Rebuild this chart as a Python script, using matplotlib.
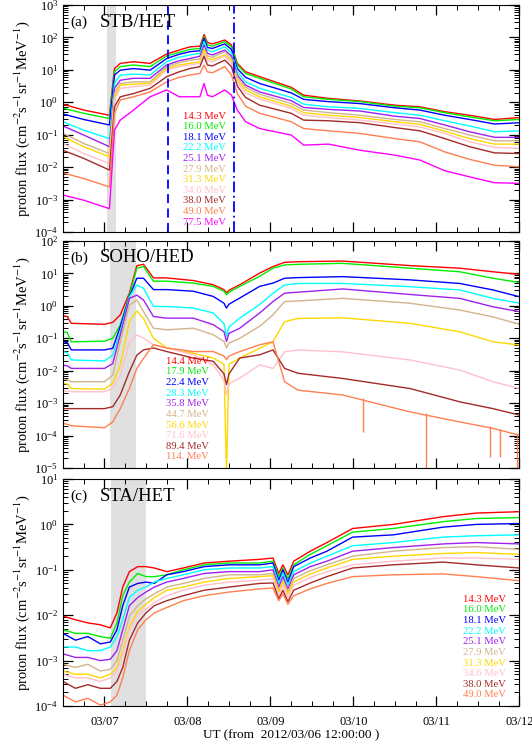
#!/usr/bin/python3

import numpy as np
import matplotlib
matplotlib.use('Agg')
import matplotlib.pyplot as plt
from matplotlib.ticker import MultipleLocator, FixedLocator, LogLocator, NullFormatter

plt.rcParams['font.family'] = ['Liberation Serif', 'DejaVu Serif']
plt.rcParams['mathtext.fontset'] = 'stix'

# time in days from 2012/03/06 12:00 UT, flux given as log10 (cm-2 s-1 sr-1 MeV-1)

# ---- (a) STB/HET
t_a = [0.00, 0.25, 0.56, 0.62, 0.69, 0.85, 1.05, 1.25, 1.40, 1.53, 1.65, 1.70, 1.74, 1.80, 1.95,
       2.03, 2.10, 2.20, 2.37, 2.75, 2.90, 3.20, 3.58, 4.00, 4.30, 4.60, 4.90, 5.20, 5.50]
a_143 = [-0.06, -0.24, -0.40, 1.04, 1.20, 1.25, 1.20, 1.49, 1.61, 1.71, 1.73, 2.09, 1.84, 1.80, 1.92,
         1.77, 1.20, 0.94, 0.79, 0.46, 0.22, 0.12, 0.04, -0.09, -0.14, -0.29, -0.40, -0.53, -0.47]
a_160 = [-0.18, -0.34, -0.50, 0.94, 1.10, 1.15, 1.10, 1.43, 1.54, 1.63, 1.66, 2.02, 1.77, 1.73, 1.87,
         1.71, 1.15, 0.89, 0.74, 0.41, 0.17, 0.09, 0.02, -0.12, -0.17, -0.32, -0.45, -0.57, -0.53]
a_181 = [-0.36, -0.53, -0.70, 0.84, 0.99, 1.04, 0.99, 1.35, 1.48, 1.56, 1.59, 1.97, 1.69, 1.66, 1.80,
         1.63, 1.04, 0.77, 0.58, 0.29, 0.09, 0.02, -0.04, -0.17, -0.24, -0.40, -0.53, -0.67, -0.63]
a_222 = [-0.60, -0.86, -1.12, 0.58, 0.84, 0.87, 0.84, 1.25, 1.39, 1.46, 1.51, 1.87, 1.61, 1.56, 1.71,
         1.53, 0.94, 0.63, 0.43, 0.15, -0.06, -0.14, -0.19, -0.32, -0.40, -0.57, -0.73, -0.91, -0.88]
a_251 = [-0.73, -1.01, -1.37, 0.43, 0.68, 0.74, 0.74, 1.15, 1.28, 1.35, 1.42, 1.77, 1.51, 1.46, 1.61,
         1.43, 0.84, 0.53, 0.32, 0.05, -0.16, -0.22, -0.27, -0.43, -0.50, -0.70, -0.91, -1.08, -1.08]
a_279 = [-0.96, -1.27, -1.58, 0.27, 0.58, 0.63, 0.63, 1.10, 1.22, 1.30, 1.33, 1.66, 1.43, 1.39, 1.56,
         1.35, 0.77, 0.46, 0.25, -0.04, -0.24, -0.32, -0.40, -0.53, -0.60, -0.81, -1.01, -1.19, -1.19]
a_313 = [-1.06, -1.37, -1.68, 0.17, 0.53, 0.56, 0.58, 1.04, 1.15, 1.20, 1.25, 1.61, 1.35, 1.32, 1.46,
         1.28, 0.68, 0.38, 0.17, -0.12, -0.32, -0.40, -0.47, -0.60, -0.68, -0.89, -1.12, -1.29, -1.29]
a_346 = [-1.27, -1.58, -1.89, 0.07, 0.43, 0.48, 0.53, 0.99, 1.10, 1.15, 1.20, 1.51, 1.28, 1.25, 1.42,
         1.20, 0.60, 0.29, 0.10, -0.19, -0.40, -0.47, -0.55, -0.67, -0.76, -0.96, -1.22, -1.39, -1.42]
a_380 = [-1.48, -1.73, -2.09, -0.14, 0.17, 0.27, 0.43, 0.79, 0.94, 1.04, 1.10, 1.42, 1.15, 1.12, 1.30,
         1.10, 0.50, 0.15, -0.09, -0.34, -0.55, -0.57, -0.63, -0.78, -0.88, -1.12, -1.37, -1.56, -1.58]
a_490 = [-2.18, -2.35, -2.61, -0.34, 0.07, 0.17, 0.32, 0.63, 0.77, 0.84, 0.89, 1.15, 0.94, 0.91, 1.10,
         0.84, 0.27, -0.12, -0.34, -0.60, -0.81, -0.88, -0.96, -1.12, -1.22, -1.53, -1.76, -1.94, -1.99]
a_775 = [-2.86, -3.02, -3.28, -0.86, -0.55, -0.24, 0.17, 0.38, 0.17, 0.17, 0.17, 0.58, 0.22, 0.17, 0.38,
         0.22, -0.24, -0.60, -0.81, -1.01, -1.32, -1.29, -1.48, -1.63, -1.78, -2.11, -2.30, -2.48, -2.50]
labels_a = ['14.3 MeV', '16.0 MeV', '18.1 MeV', '22.2 MeV', '25.1 MeV', '27.9 MeV',
            '31.3 MeV', '34.6 MeV', '38.0 MeV', '49.0 MeV', '77.5 MeV']

# ---- (b) SOHO/HED
t_b = [0.00, 0.05, 0.10, 0.50, 0.60, 0.69, 0.80, 0.89, 0.97, 1.09, 1.25, 1.57, 1.81, 1.94, 1.97,
       2.00, 2.13, 2.37, 2.53, 2.67, 2.83, 3.37, 4.18, 4.78, 5.18, 5.50]
b_144 = [-0.31, -0.33, -0.54, -0.57, -0.51, -0.28, 0.39, 1.24, 1.28, 0.86, 0.86, 0.78, 0.65, 0.50, 0.40,
         0.48, 0.65, 1.01, 1.21, 1.34, 1.36, 1.38, 1.24, 1.16, 1.05, 0.97]
b_179 = [-0.80, -0.82, -1.11, -1.09, -1.00, -0.59, 0.33, 1.16, 1.21, 0.76, 0.76, 0.70, 0.60, 0.45, 0.34,
         0.42, 0.60, 0.91, 1.16, 1.26, 1.28, 1.31, 1.16, 1.05, 0.85, 0.72]
b_224 = [-1.11, -1.13, -1.36, -1.36, -1.31, -0.64, 0.28, 0.85, 0.85, 0.50, 0.50, 0.45, 0.29, 0.08, -0.07,
         0.05, 0.24, 0.60, 0.70, 0.85, 0.87, 0.90, 0.80, 0.69, 0.49, 0.28]
b_283 = [-1.42, -1.44, -1.67, -1.70, -1.52, -0.80, 0.28, 0.64, 0.54, -0.02, -0.02, -0.07, -0.22, -0.55, -0.94,
         -0.65, -0.38, 0.04, 0.39, 0.64, 0.69, 0.69, 0.59, 0.49, 0.23, 0.08]
b_358 = [-1.83, -1.85, -1.93, -1.93, -1.78, -0.90, 0.23, 0.33, 0.18, -0.33, -0.38, -0.38, -0.58, -0.80, -1.10,
         -0.85, -0.69, -0.22, 0.13, 0.39, 0.42, 0.52, 0.35, 0.23, -0.03, -0.18]
b_447 = [-2.26, -2.28, -2.34, -2.34, -2.14, -1.11, 0.02, 0.18, -0.18, -0.69, -0.74, -0.69, -0.89, -1.10, -1.30,
         -1.15, -1.00, -0.63, -0.28, 0.13, 0.15, 0.23, 0.08, -0.13, -0.34, -0.57]
b_566 = [-2.39, -2.41, -2.55, -2.57, -2.39, -1.83, -0.49, -0.16, -0.39, -1.00, -1.30, -1.46, -1.61, -1.80, -5.20,
         -1.80, -1.61, -1.31, -1.11, -0.49, -0.39, -0.37, -0.54, -0.80, -1.11, -1.21]
b_716 = [-2.63, -2.63, -2.65, -2.65, -2.55, -2.14, -1.11, -0.90, -1.00, -1.20, -1.30, -1.51, -1.82, -2.30, -2.74,
         -2.40, -2.23, -1.82, -1.93, -1.42, -1.36, -1.42, -1.67, -1.98, -2.34, -2.55]
b_894 = [-3.17, -3.17, -3.17, -3.17, -3.11, -2.75, -2.03, -1.52, -1.36, -1.30, -1.41, -1.61, -1.71, -2.10, -2.43,
         -2.10, -1.61, -1.51, -1.36, -1.93, -2.08, -2.24, -2.55, -2.96, -3.17, -3.37]
b_114 = [-3.63, -3.65, -3.70, -3.76, -3.58, -3.17, -2.55, -1.93, -1.62, -1.20, -1.30, -1.41, -1.41, -1.55, -1.66,
         -1.55, -1.41, -1.20, -1.11, -2.34, -2.60, -2.75, -3.27, -3.58, -3.78, -3.99]
# dropouts of the 114 MeV channel (time, top, bottom)
b_114_drop_t = [3.62, 4.38, 5.15, 5.26, 5.47]
b_114_drop_hi = [-2.85, -3.30, -3.72, -3.80, -3.95]
b_114_drop_lo = [-3.90, -5.00, -4.66, -4.66, -5.00]
labels_b = ['14.4 MeV', '17.9 MeV', '22.4 MeV', '28.3 MeV', '35.8 MeV', '44.7 MeV',
            '56.6 MeV', '71.6 MeV', '89.4 MeV', '114. MeV']

# ---- (c) STA/HET
t_c = [0.00, 0.15, 0.30, 0.45, 0.57, 0.65, 0.72, 0.80, 0.90, 1.00, 1.10, 1.25, 1.45, 1.70, 2.00,
       2.37, 2.53, 2.60, 2.65, 2.71, 2.78, 2.98, 3.18, 3.49, 3.98, 4.58, 4.98, 5.50]
c_143 = [-2.02, -2.10, -2.17, -2.21, -2.28, -1.95, -1.38, -1.04, -0.93, -0.93, -0.96, -1.04, -0.96, -0.85, -0.81,
         -0.77, -0.74, -1.08, -0.89, -1.11, -0.81, -0.59, -0.40, -0.09, 0.00, 0.17, 0.25, 0.28]
c_160 = [-2.32, -2.40, -2.40, -2.47, -2.51, -2.17, -1.57, -1.27, -1.08, -1.15, -1.15, -1.11, -1.00, -0.89, -0.85,
         -0.85, -0.81, -1.15, -0.96, -1.19, -0.89, -0.66, -0.47, -0.17, -0.09, 0.06, 0.13, 0.15]
c_181 = [-2.40, -2.55, -2.47, -2.63, -2.59, -2.32, -1.79, -1.38, -1.30, -1.27, -1.30, -1.11, -1.04, -0.93, -0.89,
         -0.89, -0.85, -1.23, -1.00, -1.27, -0.93, -0.74, -0.59, -0.28, -0.23, -0.06, 0.00, 0.02]
c_222 = [-2.70, -2.70, -2.78, -2.78, -2.70, -2.47, -2.10, -1.61, -1.45, -1.38, -1.27, -1.19, -1.11, -1.00, -0.96,
         -0.96, -0.93, -1.30, -1.08, -1.34, -1.04, -0.85, -0.70, -0.47, -0.40, -0.28, -0.25, -0.23]
c_251 = [-2.85, -2.93, -2.93, -3.00, -2.97, -2.78, -2.32, -1.79, -1.61, -1.49, -1.38, -1.27, -1.19, -1.08, -1.04,
         -1.04, -1.00, -1.38, -1.15, -1.42, -1.11, -0.93, -0.81, -0.59, -0.51, -0.43, -0.40, -0.43]
c_279 = [-3.08, -3.15, -3.08, -3.23, -3.19, -3.00, -2.55, -2.02, -1.79, -1.64, -1.53, -1.38, -1.30, -1.19, -1.11,
         -1.11, -1.08, -1.45, -1.23, -1.49, -1.19, -1.02, -0.89, -0.70, -0.59, -0.51, -0.49, -0.55]
c_313 = [-3.23, -3.30, -3.30, -3.38, -3.30, -3.15, -2.78, -2.25, -1.91, -1.76, -1.61, -1.45, -1.38, -1.27, -1.19,
         -1.15, -1.13, -1.49, -1.27, -1.53, -1.27, -1.09, -0.96, -0.77, -0.70, -0.64, -0.62, -0.66]
c_346 = [-3.30, -3.38, -3.38, -3.46, -3.38, -3.23, -2.85, -2.32, -1.98, -1.87, -1.72, -1.57, -1.45, -1.34, -1.27,
         -1.23, -1.19, -1.57, -1.34, -1.61, -1.34, -1.17, -1.04, -0.89, -0.81, -0.74, -0.74, -0.77]
c_380 = [-3.46, -3.61, -3.53, -3.61, -3.61, -3.46, -3.15, -2.55, -2.17, -1.95, -1.79, -1.68, -1.57, -1.45, -1.38,
         -1.30, -1.29, -1.64, -1.45, -1.70, -1.45, -1.29, -1.15, -0.96, -0.89, -0.83, -0.89, -0.96]
c_490 = [-3.76, -3.91, -3.83, -3.98, -3.91, -3.76, -3.38, -2.78, -2.32, -2.10, -1.95, -1.83, -1.68, -1.57, -1.49,
         -1.42, -1.40, -1.68, -1.53, -1.76, -1.57, -1.42, -1.30, -1.15, -1.11, -1.09, -1.15, -1.24]
labels_c = labels_a[:10]

colors = ['#ff0000', '#00ee00', '#0000ff', '#00ffff', '#a020f0', '#d2b48c',
          '#ffd700', '#ffc0cb', '#a52a2a', '#ff7f50', '#ff00ff']

day_ticks = [0.5, 1.5, 2.5, 3.5, 4.5, 5.5]
day_labels = ['03/07', '03/08', '03/09', '03/10', '03/11', '03/12']


def panel(ax, t, series, labels, ylim, band, tag, name, leg_x):
    ax.axvspan(band[0], band[1], color='#e0e0e0', lw=0, zorder=0)
    for vals, c in zip(series, colors):
        ax.plot(t, 10.0 ** np.array(vals), color=c, lw=1.0)
    ax.set_yscale('log')
    ax.set_ylim(ylim)
    ax.set_xlim(0, 5.5)
    ax.xaxis.set_major_locator(FixedLocator(day_ticks))
    ax.xaxis.set_minor_locator(MultipleLocator(0.25))
    ax.yaxis.set_major_locator(LogLocator(base=10, numticks=20))
    ax.yaxis.set_minor_locator(LogLocator(base=10, subs=np.arange(2, 10), numticks=20))
    ax.yaxis.set_minor_formatter(NullFormatter())
    ax.tick_params(which='both', direction='in', top=True, right=True, labelsize=9)
    ax.tick_params(which='major', length=7, width=0.9)
    ax.tick_params(which='minor', length=3.5, width=0.7)
    ax.set_ylabel(r'proton flux (cm$^{-2}$s$^{-1}$sr$^{-1}$MeV$^{-1}$)', fontsize=10.5, labelpad=2)
    ax.text(0.017, 0.925, tag, transform=ax.transAxes, fontsize=11, va='center')
    ax.text(0.081, 0.925, name, transform=ax.transAxes, fontsize=13.5, va='center')
    y0 = 0.47 if len(labels) == 10 else 0.511
    for i, (lab, c) in enumerate(zip(labels, colors)):
        ax.text(leg_x, y0 - i * 0.0468, lab, color=c, transform=ax.transAxes,
                fontsize=7.7, va='center')


fig = plt.figure(figsize=(5.32, 7.46), dpi=100)
ax_a = fig.add_axes([0.1184, 0.689, 0.858, 0.3043])
ax_b = fig.add_axes([0.1184, 0.3727, 0.858, 0.3043])
ax_c = fig.add_axes([0.1184, 0.0536, 0.858, 0.3043])

panel(ax_a, t_a, [a_143, a_160, a_181, a_222, a_251, a_279, a_313, a_346, a_380, a_490, a_775],
      labels_a, (1e-4, 1e3), (0.53, 0.635), '(a)', 'STB/HET', 0.262)
ax_a.axvline(1.265, color='#0000ff', lw=1.3, ls=(0, (5, 3)))
ax_a.axvline(2.06, color='#0000ff', lw=1.3, ls=(0, (6, 2, 1, 2)))

panel(ax_b, t_b, [b_144, b_179, b_224, b_283, b_358, b_447, b_566, b_716, b_894, b_114],
      labels_b, (1e-5, 1e2), (0.57, 0.88), '(b)', 'SOHO/HED', 0.226)
ax_b.vlines(b_114_drop_t, 10.0 ** np.array(b_114_drop_lo), 10.0 ** np.array(b_114_drop_hi),
            color=colors[9], lw=1.0)

panel(ax_c, t_c, [c_143, c_160, c_181, c_222, c_251, c_279, c_313, c_346, c_380, c_490],
      labels_c, (1e-4, 1e1), (0.58, 1.0), '(c)', 'STA/HET', 0.876)

for ax in (ax_a, ax_b):
    ax.set_xticklabels([])
ax_c.set_xticklabels(day_labels)
ax_c.tick_params(axis='x', pad=7)
ax_c.set_xlabel('UT (from  2012/03/06 12:00:00 )', fontsize=9.5, labelpad=1)

fig.savefig('out.png', dpi=100)
